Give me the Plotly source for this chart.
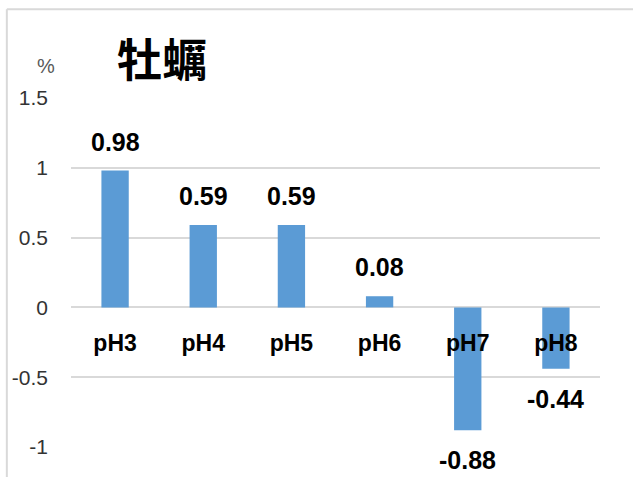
import plotly.graph_objects as go

# pH levels and percentage change for oysters
categories = ["pH3", "pH4", "pH5", "pH6", "pH7", "pH8"]
values = [0.98, 0.59, 0.59, 0.08, -0.88, -0.44]
y_ticks = [-1, -0.5, 0, 0.5, 1, 1.5]
y_tick_text = ["-1", "-0.5", "0", "0.5", "1", "1.5"]
title_text = "牡蠣"
unit_text = "%"

W, H = 633, 477
L, R, T, B = 70.7, 33, 97.7, 30.3
y_min, y_max = -1, 1.5
grid = "#d9d9d9"
bar_color = "#5b9bd5"
label_font = "Liberation Sans, Arial, sans-serif"

fig = go.Figure()
fig.add_trace(go.Bar(
    x=categories, y=values, width=0.31,
    marker=dict(color=bar_color, line=dict(width=0)),
    hoverinfo="skip",
))

# value labels above positive bars, below negative bars
for c, v in zip(categories, values):
    fig.add_annotation(
        x=c, y=v, xref="x", yref="y",
        text=f"{v:g}", showarrow=False,
        yanchor="middle", yshift=29 if v >= 0 else -30,
        font=dict(family=label_font, size=25, color="#000000", weight="bold"),
    )

zero_pos = (0 - y_min) / (y_max - y_min)

fig.update_layout(
    width=W, height=H,
    margin=dict(l=L, r=R, t=T, b=B, pad=0),
    paper_bgcolor="white", plot_bgcolor="white",
    showlegend=False,
    bargap=0.69,
    xaxis=dict(
        type="category", anchor="free", position=zero_pos,
        showgrid=False, zeroline=False, showline=False,
        ticks="", ticklabelstandoff=20,
        tickfont=dict(family=label_font, size=23, color="#000000", weight="bold"),
    ),
    yaxis=dict(
        range=[y_min, y_max], tickmode="array",
        tickvals=y_ticks, ticktext=y_tick_text,
        showgrid=True, gridcolor=grid, gridwidth=2,
        zeroline=False, showline=False, ticks="",
        ticklabelstandoff=22,
        tickfont=dict(family=label_font, size=21, color="#333333"),
    ),
    font=dict(family=label_font),
)

pw, ph = W - L - R, H - T - B

# title and unit text
fig.add_annotation(
    x=(162 - L) / pw, y=(H - B - 57) / ph,
    xref="paper", yref="paper", text=title_text,
    showarrow=False, xanchor="center", yanchor="middle",
    font=dict(family="Noto Sans CJK TC", size=45, color="#000000", weight="bold"),
)
fig.add_annotation(
    x=(46 - L) / pw, y=(H - B - 66) / ph,
    xref="paper", yref="paper", text=unit_text, showarrow=False,
    xanchor="center", yanchor="middle",
    font=dict(family=label_font, size=20, color="#595959"),
)

# chart frame (left and top edges)
fx0 = (6.5 - L) / pw
fy1 = (H - B - 9) / ph
fig.add_shape(type="line", xref="paper", yref="paper",
              x0=fx0, x1=fx0, y0=-0.2, y1=fy1, line=dict(color=grid, width=2))
fig.add_shape(type="line", xref="paper", yref="paper",
              x0=fx0, x1=1.2, y0=fy1, y1=fy1, line=dict(color=grid, width=2))

fig.write_html("out.html")
